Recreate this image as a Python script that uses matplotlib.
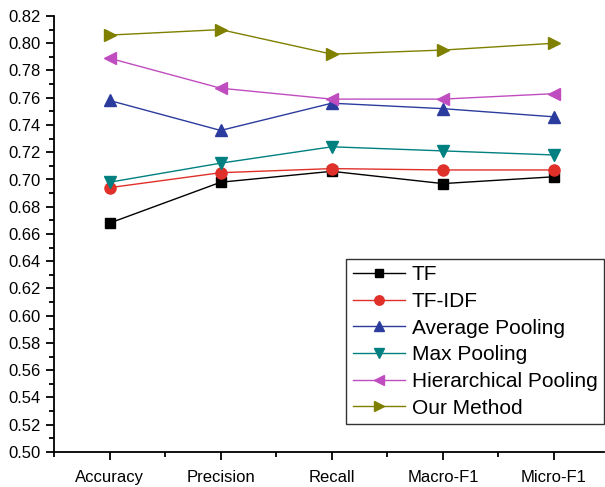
import matplotlib
matplotlib.use("Agg")
import matplotlib.pyplot as plt
from matplotlib.ticker import MultipleLocator, FormatStrFormatter

plt.rcParams['font.family'] = ['Liberation Sans', 'DejaVu Sans']

metrics = ["Accuracy", "Precision", "Recall", "Macro-F1", "Micro-F1"]

tf = [0.668, 0.698, 0.706, 0.697, 0.702]
tf_idf = [0.694, 0.705, 0.708, 0.707, 0.707]
average_pooling = [0.758, 0.736, 0.756, 0.752, 0.746]
max_pooling = [0.698, 0.712, 0.724, 0.721, 0.718]
hierarchical_pooling = [0.789, 0.767, 0.759, 0.759, 0.763]
our_method = [0.806, 0.810, 0.792, 0.795, 0.800]

series = [
    ("TF", tf, "#000000", "s", 7),
    ("TF-IDF", tf_idf, "#e0302a", "o", 8),
    ("Average Pooling", average_pooling, "#2b3c9e", "^", 9),
    ("Max Pooling", max_pooling, "#008080", "v", 9),
    ("Hierarchical Pooling", hierarchical_pooling, "#c04dc0", "<", 9),
    ("Our Method", our_method, "#808000", ">", 9),
]

fig = plt.figure(figsize=(6.05, 4.87), dpi=100)
ax = fig.add_axes([54 / 605, 35 / 487, 550 / 605, 436 / 487])

x = list(range(1, len(metrics) + 1))
for label, values, color, marker, ms in series:
    ax.plot(x, values, color=color, marker=marker, markersize=ms,
            linewidth=1.0, label=label)

ax.set_xlim(0.5, 5.45)
ax.set_ylim(0.50, 0.82)
ax.set_xticks(x)
ax.set_xticklabels(metrics)
ax.xaxis.set_minor_locator(MultipleLocator(0.5))
ax.yaxis.set_major_locator(MultipleLocator(0.02))
ax.yaxis.set_minor_locator(MultipleLocator(0.01))
ax.yaxis.set_major_formatter(FormatStrFormatter("%.2f"))

ax.spines['top'].set_visible(False)
ax.spines['right'].set_visible(False)
for s in ('left', 'bottom'):
    ax.spines[s].set_linewidth(1.3)

ax.tick_params(axis='both', which='major', direction='out', length=6,
               width=1.3, labelsize=12)
ax.tick_params(axis='both', which='minor', direction='out', length=3.5,
               width=1.3)
ax.tick_params(axis='x', pad=7)

leg = ax.legend(loc='upper right', bbox_to_anchor=(604 / 605, 228 / 487),
                bbox_transform=fig.transFigure, fontsize=15,
                frameon=True, fancybox=False, framealpha=1,
                edgecolor='#333333', handlelength=2.5, handletextpad=0.35,
                labelspacing=0.37, borderpad=0.3, borderaxespad=0,
                markerscale=0.85)
leg.get_frame().set_linewidth(1.0)

fig.savefig("out.png", dpi=100)
